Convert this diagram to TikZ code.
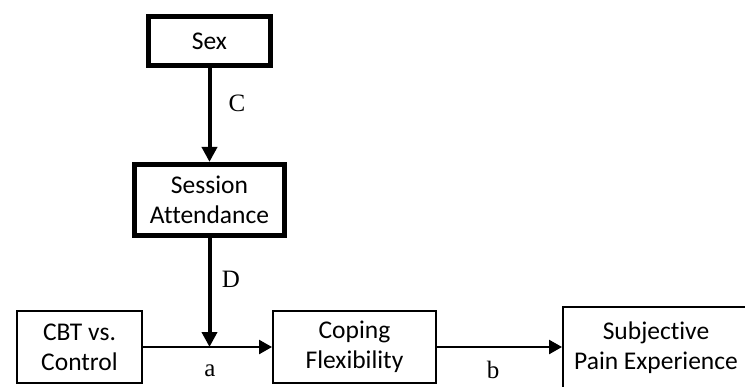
\documentclass[tikz,border=0pt]{standalone}
\usepackage{fontspec}
\setmainfont[Ligatures=NoCommon]{Carlito}
\newfontfamily\labelfont{Liberation Serif}
\usetikzlibrary{arrows.meta}

\tikzset{
  box/.style={draw, line width=2pt, inner sep=0pt, align=center,
    font=\fontsize{25.5}{30}\selectfont},
  heavybox/.style={box, line width=4.6pt},
  pathlabel/.style={inner sep=0pt, font=\labelfont\fontsize{25}{30}\selectfont},
  heavyarrow/.style={line width=4pt, -{Triangle[width=15pt,length=15pt]}},
  lightarrow/.style={line width=2.5pt, -{Triangle[width=14pt,length=13pt]}},
}

\begin{document}
\begin{tikzpicture}[x=1pt, y=-1pt]
  \useasboundingbox (0,0) rectangle (745,386);

  % boxes
  \node[heavybox, minimum width=122pt, minimum height=49pt] (sex) at (209.5,41) {Sex};
  \node[heavybox, minimum width=150.5pt, minimum height=71.5pt] (session) at (209.5,200) {Session\\Attendance};
  \node[box, minimum width=125pt, minimum height=72pt] (cbt) at (79.5,347) {CBT vs.\\Control};
  \node[box, minimum width=163pt, minimum height=72pt] (coping) at (354.5,347) {Coping\\Flexibility};
  \node[box, minimum width=186pt, minimum height=82pt] (pain) at (656,348) {Subjective\\Pain Experience};

  % moderation point on the a path
  \coordinate (join) at (session.south |- cbt.east);

  % connectors
  \draw[heavyarrow] (sex.south) -- (session.north);
  \draw[heavyarrow] (session.south) -- (join);
  \draw[lightarrow] (cbt.east) -- (coping.west);
  \draw[lightarrow] (coping.east) -- (pain.west |- coping.east);

  % path labels
  \node[pathlabel] (lc) at (237,103) {C};
  \node[pathlabel] (ld) at (231,279) {D};
  \node[pathlabel] (la) at (210,371) {a};
  \node[pathlabel] (lb) at (493,370) {b};
\end{tikzpicture}
\end{document}
